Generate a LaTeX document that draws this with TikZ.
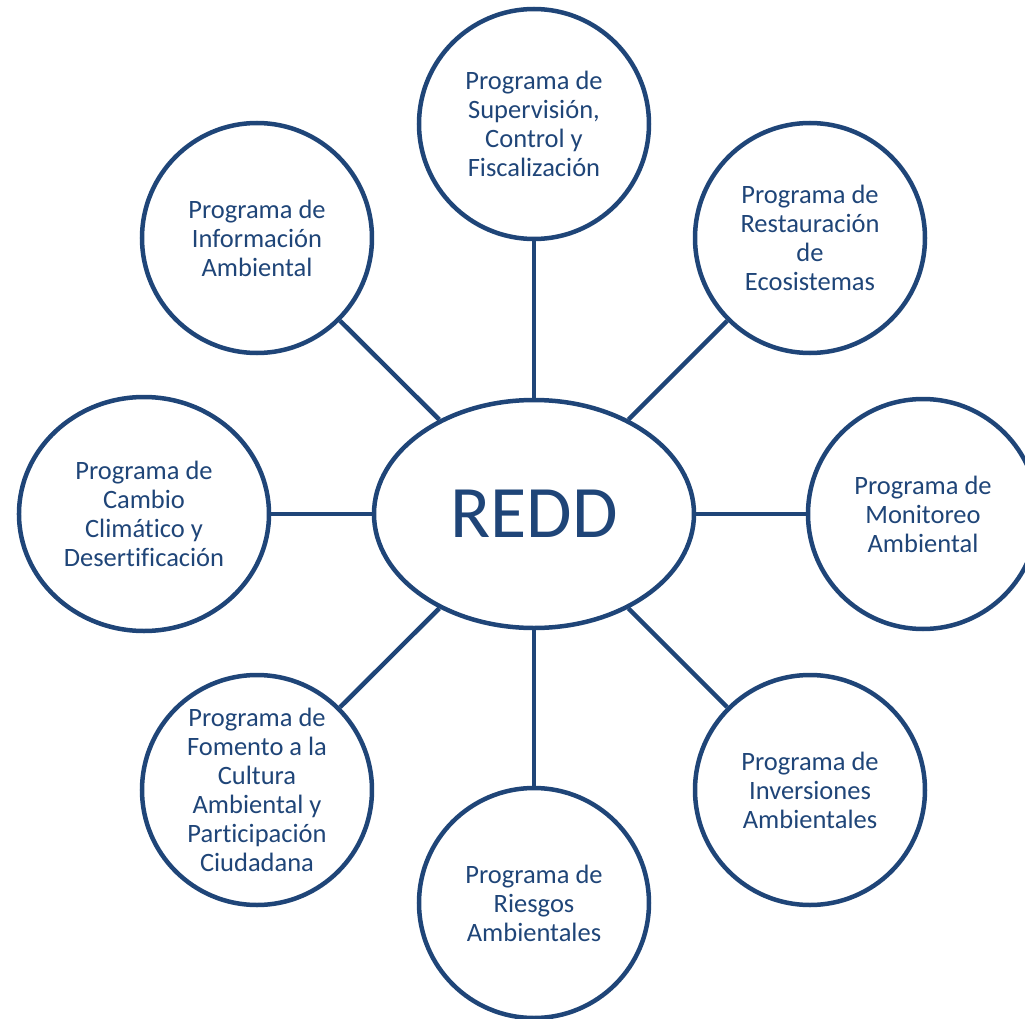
\documentclass[tikz,border=0pt]{standalone}
\usepackage{fontspec}
\setmainfont[Ligatures={NoCommon}]{Carlito}
\usepackage{tikz}
\usetikzlibrary{positioning, shapes.geometric}
\definecolor{reddblue}{RGB}{31,69,120}

\begin{document}
\begin{tikzpicture}[x=1pt, y=1pt,
        prog_circle/.style={draw=reddblue, line width=4.5pt, circle, minimum size=230pt, inner sep=0pt,
            align=center, text=reddblue, font=\fontsize{26.5}{29}\selectfont},
        hub/.style={draw=reddblue, line width=4.5pt, ellipse, minimum width=320pt, minimum height=228pt,
            inner sep=0pt, text=reddblue, font=\fontsize{74}{80}\selectfont},
        spoke/.style={draw=reddblue, line width=4.5pt}]

        % Fix the frame to the picture size
        \useasboundingbox (-534,-504) rectangle (491,514);

        % Central node
        \node[hub] (redd) at (0,0) {REDD};

        % Programs around it
        \node[prog_circle] (superv) at (0,390) {Programa de\\Supervisión,\\Control y\\Fiscalización};
        \node[prog_circle] (restaur) at (276,276) {Programa de\\Restauración\\de\\Ecosistemas};
        \node[prog_circle] (monit) at (389,0) {Programa de\\Monitoreo\\Ambiental};
        \node[prog_circle] (invers) at (276,-276) {Programa de\\Inversiones\\Ambientales};
        \node[prog_circle] (riesgos) at (0,-389) {Programa de\\Riesgos\\Ambientales};
        \node[prog_circle] (fomento) at (-277,-276) {Programa de\\Fomento a la\\Cultura\\Ambiental y\\Participación\\Ciudadana};
        \node[prog_circle, ellipse, minimum width=250pt, minimum height=234pt] (cambio) at (-390,0) {Programa de\\Cambio\\Climático y\\Desertificación};
        \node[prog_circle] (inform) at (-277,276) {Programa de\\Información\\Ambiental};

        % Spokes
        \draw[spoke] (redd) -- (superv);
        \draw[spoke] (redd) -- (restaur);
        \draw[spoke] (redd) -- (monit);
        \draw[spoke] (redd) -- (invers);
        \draw[spoke] (redd) -- (riesgos);
        \draw[spoke] (redd) -- (fomento);
        \draw[spoke] (redd) -- (cambio);
        \draw[spoke] (redd) -- (inform);
    \end{tikzpicture}
\end{document}
